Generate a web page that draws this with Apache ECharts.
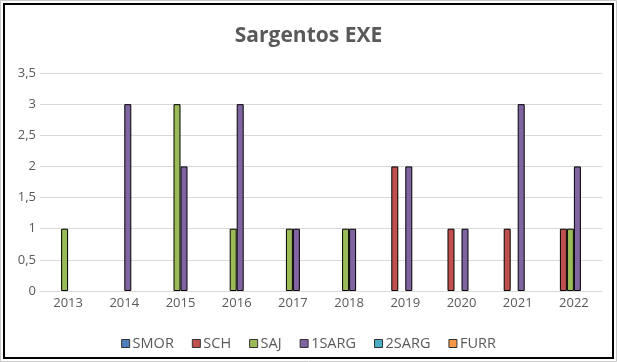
<!DOCTYPE html>
<html>
<head>
<meta charset="utf-8">
<script src="https://cdn.jsdelivr.net/npm/echarts@6/dist/echarts.min.js"></script>
<style>
html,body{margin:0;padding:0;background:#fff;}
#chart{width:617px;height:362px;}
</style>
</head>
<body>
<div id="chart"></div>
<script>
const categories = ['2013','2014','2015','2016','2017','2018','2019','2020','2021','2022'];
const seriesNames = ['SMOR','SCH','SAJ','1SARG','2SARG','FURR'];
const SMOR  = [null,null,null,null,null,null,null,null,null,null];
const SCH   = [null,null,null,null,null,null,2,1,1,1];
const SAJ   = [1,null,3,1,1,1,null,null,null,1];
const SARG1 = [null,3,2,3,1,1,2,1,3,2];
const SARG2 = [null,null,null,null,null,null,null,null,null,null];
const FURR  = [null,null,null,null,null,null,null,null,null,null];
const yTicks = [0,0.5,1,1.5,2,2.5,3,3.5];

const colors = ['#4F81BD','#C0504D','#9BBB59','#8064A2','#4BACC6','#F79646'];
const values = [SMOR,SCH,SAJ,SARG1,SARG2,FURR];

const chart = echarts.init(document.getElementById('chart'));
const font = 'Open Sans';
chart.setOption({
  animation:false,
  title:{text:'Sargentos EXE',left:'center',top:21,
    textStyle:{fontFamily:font,fontWeight:'bold',fontSize:21,color:'#595959'}},
  legend:{bottom:6,left:'center',itemWidth:8,itemHeight:8,itemGap:18,
    icon:'rect',
    textStyle:{fontFamily:font,fontSize:14.5,color:'#595959',padding:[0,0,0,-2]},
    data:seriesNames.map((n,i)=>({name:n,itemStyle:{color:colors[i],borderColor:'#333',borderWidth:1}}))},
  grid:{left:40,right:15,top:73,bottom:71,containLabel:false},
  xAxis:{type:'category',data:categories,
    axisLine:{show:true,lineStyle:{color:'#d9d9d9',width:1}},
    axisTick:{show:false},
    axisLabel:{fontFamily:font,fontSize:13,color:'#595959',margin:6}},
  yAxis:{type:'value',min:0,max:3.5,interval:0.5,
    axisLine:{show:false},axisTick:{show:false},
    splitLine:{lineStyle:{color:'#d9d9d9',width:1}},
    axisLabel:{fontFamily:font,fontSize:13,color:'#595959',margin:4,
      formatter:v=>String(v).replace('.',',')}},
  series:seriesNames.map((n,i)=>({
    name:n,type:'bar',data:values[i],barWidth:7,barGap:'0%',
    itemStyle:{color:colors[i],borderColor:'#000',borderWidth:1}
  })),
  graphic:[
    {type:'rect',shape:{x:0.5,y:0.5,width:616,height:361},style:{fill:'none',stroke:'#c8c8c8',lineWidth:1},silent:true},
    {type:'rect',shape:{x:4,y:4,width:609,height:354},style:{fill:'none',stroke:'#000',lineWidth:2},silent:true}
  ]
});
</script>
</body>
</html>
